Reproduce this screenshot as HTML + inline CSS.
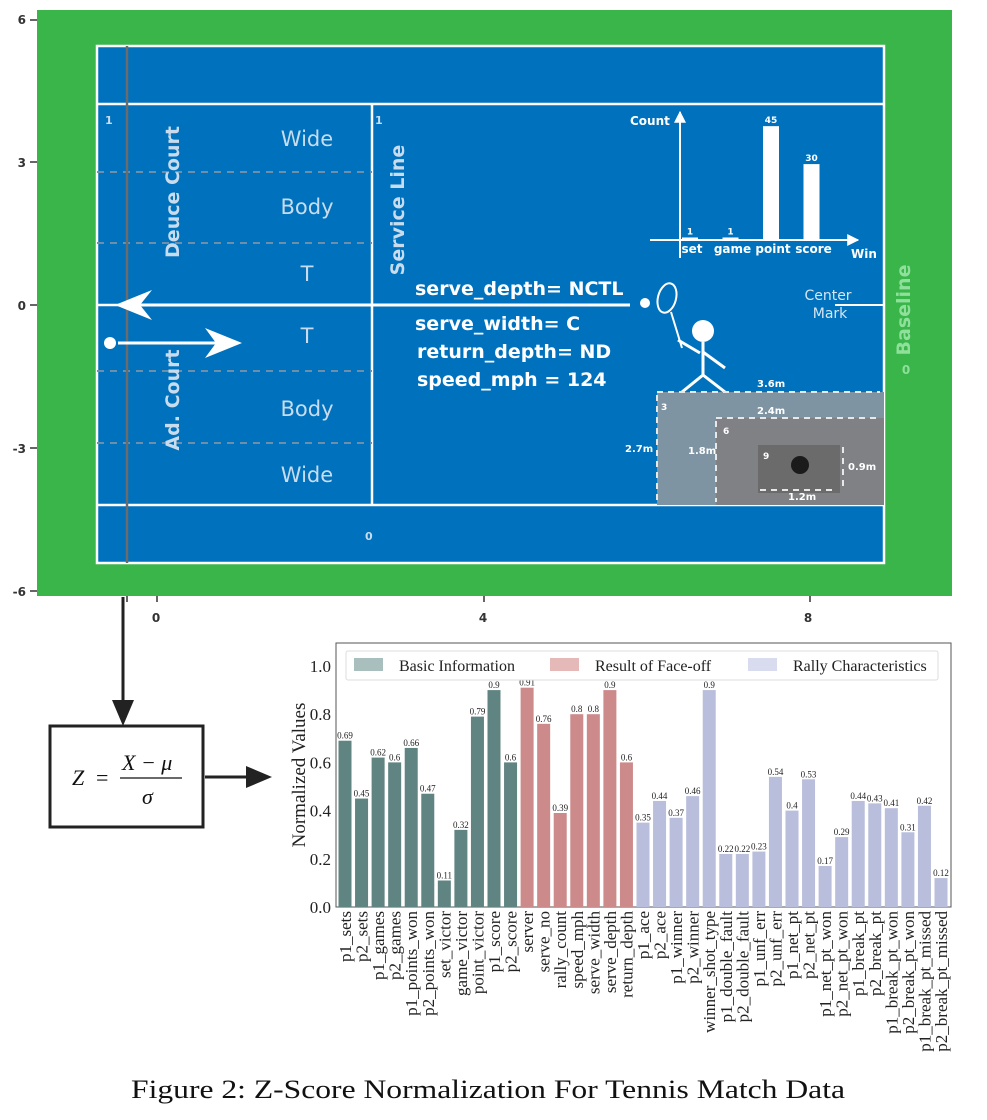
<!DOCTYPE html>
<html><head><meta charset="utf-8"><style>
html,body{margin:0;padding:0;background:#fff}
svg{display:block}
.sans{font-family:"DejaVu Sans","Liberation Sans",sans-serif}
.serif{font-family:"Liberation Serif",serif}
</style></head><body>
<svg id="root" width="987" height="1120" viewBox="0 0 987 1120" xmlns="http://www.w3.org/2000/svg">
<defs>
<marker id="ah" viewBox="0 0 10 10" refX="9" refY="5" markerWidth="6" markerHeight="6" orient="auto"><path d="M0,0 L10,5 L0,10 z" fill="#fff"/></marker>
</defs>
<g class="sans">
<rect x="37" y="10" width="915" height="586" fill="#39b54a"/>
<rect x="97" y="46" width="787" height="517" fill="#0071bc" stroke="#fff" stroke-width="2.5"/>
<line x1="97" y1="104" x2="884" y2="104" stroke="#fff" stroke-width="2.5"/>
<line x1="97" y1="505" x2="884" y2="505" stroke="#fff" stroke-width="2.5"/>
<line x1="372" y1="104" x2="372" y2="505" stroke="#fff" stroke-width="2.5"/>
<line x1="97" y1="305" x2="630" y2="305" stroke="#fff" stroke-width="2.5"/>
<line x1="835" y1="305" x2="884" y2="305" stroke="#fff" stroke-width="2"/>
<g stroke="#6d8fa8" stroke-width="2" stroke-dasharray="7,6">
<line x1="97" y1="172" x2="372" y2="172"/><line x1="97" y1="243" x2="372" y2="243"/>
<line x1="97" y1="371" x2="372" y2="371"/><line x1="97" y1="443" x2="372" y2="443"/>
</g>
<line x1="127" y1="46" x2="127" y2="563" stroke="#6b6b6b" stroke-width="2.5"/>
<g fill="#c8dcee" font-size="21" text-anchor="middle">
<text x="307" y="146">Wide</text><text x="307" y="214">Body</text><text x="307" y="281">T</text>
<text x="307" y="343">T</text><text x="307" y="416">Body</text><text x="307" y="482">Wide</text>
</g>
<g fill="#c8dcee" font-size="19" font-weight="bold">
<text transform="translate(179,192) rotate(-90)" text-anchor="middle">Deuce Court</text>
<text transform="translate(179,400) rotate(-90)" text-anchor="middle">Ad. Court</text>
<text transform="translate(404,210) rotate(-90)" text-anchor="middle">Service  Line</text>
</g>
<text transform="translate(910,310) rotate(-90)" text-anchor="middle" fill="#8fe09a" font-size="19" font-weight="bold">Baseline</text>
<text x="906" y="374" fill="#8fe09a" font-size="12" font-weight="bold" text-anchor="middle">0</text>
<g fill="#c8dcee" font-size="11" font-weight="bold"><text x="105" y="124">1</text><text x="375" y="124">1</text><text x="365" y="540">0</text></g>
<g fill="#d7e6f3" font-size="14" text-anchor="middle"><text x="828" y="300">Center</text><text x="830" y="318">Mark</text></g>
<line x1="630" y1="305" x2="120" y2="305" stroke="#fff" stroke-width="3"/>
<path d="M115,305 L152,290 L140,305 L152,320 z" fill="#fff"/>
<circle cx="110" cy="343" r="6" fill="#fff"/>
<line x1="118" y1="343" x2="225" y2="343" stroke="#fff" stroke-width="3"/>
<path d="M242,343 L205,328 L216,343 L205,358 z" fill="#fff"/>
<g fill="#fff" font-size="19" font-weight="bold">
<text x="415" y="295">serve_depth= NCTL</text><text x="415" y="330">serve_width= C</text>
<text x="417" y="358">return_depth= ND</text><text x="417" y="386">speed_mph = 124</text>
</g>
<g stroke="#fff" stroke-width="3" fill="none">
<circle cx="645" cy="303" r="5" fill="#fff" stroke="none"/>
<ellipse cx="667" cy="298" rx="9" ry="15" transform="rotate(15 667 298)" stroke-width="2"/>
<line x1="671" y1="312" x2="682" y2="348" stroke-width="2"/>
<circle cx="703" cy="331" r="11" fill="#fff" stroke="none"/>
<line x1="703" y1="342" x2="703" y2="375"/>
<line x1="678" y1="340" x2="700" y2="353"/><line x1="703" y1="352" x2="725" y2="368"/>
<line x1="703" y1="375" x2="682" y2="392"/><line x1="703" y1="375" x2="725" y2="392"/>
</g>
<rect x="657" y="392" width="227" height="113" fill="#7e94a3"/>
<rect x="716" y="418" width="168" height="87" fill="#7f8184"/>
<rect x="758" y="445" width="82" height="48" fill="#6b6b6b"/>
<circle cx="800" cy="465" r="9" fill="#1b1b1b"/>
<g stroke="#e8e8e8" stroke-width="2" stroke-dasharray="6,5" fill="none">
<line x1="657" y1="392" x2="880" y2="392"/><line x1="657" y1="395" x2="657" y2="502"/>
<line x1="716" y1="418" x2="880" y2="418"/><line x1="716" y1="421" x2="716" y2="502"/>
<line x1="760" y1="490" x2="836" y2="490"/><line x1="843" y1="447" x2="843" y2="486"/>
</g>
<g fill="#fff" font-size="10" font-weight="bold">
<text x="757" y="387">3.6m</text><text x="757" y="414">2.4m</text><text x="625" y="452">2.7m</text>
<text x="688" y="454">1.8m</text><text x="848" y="470">0.9m</text><text x="788" y="500">1.2m</text>
<text x="661" y="410" font-size="9">3</text><text x="723" y="434" font-size="9">6</text><text x="763" y="459" font-size="9">9</text>
</g>
<g id="mini"></g>
<g font-size="12" font-weight="bold" fill="#333" text-anchor="end">
<text x="26" y="24">6</text><text x="26" y="167">3</text><text x="26" y="310">0</text><text x="26" y="453">-3</text><text x="26" y="596">-6</text>
</g>
<g stroke="#333" stroke-width="1.5"><line x1="30" y1="20" x2="37" y2="20"/><line x1="30" y1="162" x2="37" y2="162"/><line x1="30" y1="305" x2="37" y2="305"/><line x1="30" y1="448" x2="37" y2="448"/><line x1="30" y1="591" x2="37" y2="591"/>
<line x1="127" y1="596" x2="127" y2="602"/><line x1="157" y1="596" x2="157" y2="602"/><line x1="484" y1="596" x2="484" y2="602"/><line x1="810" y1="596" x2="810" y2="602"/></g>
<g font-size="12" font-weight="bold" fill="#333" text-anchor="middle">
<text x="156" y="622">0</text><text x="483" y="622">4</text><text x="808" y="622">8</text></g>
</g>
<line x1="123" y1="597" x2="123" y2="720" stroke="#222" stroke-width="3"/>
<path d="M123,726 L112,700 L134,700 z" fill="#222"/>
<rect x="50" y="726" width="153" height="101" fill="#fff" stroke="#222" stroke-width="3"/>
<g class="serif" font-size="22" font-style="italic" fill="#111">
<text x="72" y="785">Z</text><text x="96" y="785" font-style="normal">=</text>
<text x="122" y="770">X − μ</text><line x1="120" y1="778" x2="182" y2="778" stroke="#111" stroke-width="1.3"/>
<text x="142" y="804">σ</text></g>
<line x1="205" y1="777" x2="262" y2="777" stroke="#222" stroke-width="3"/>
<path d="M272,777 L246,766 L246,788 z" fill="#222"/>
<g id="chart" class="serif"></g>
<text x="131" y="1098" class="serif" font-size="26" textLength="714" lengthAdjust="spacingAndGlyphs" fill="#111">Figure 2: Z-Score Normalization For Tennis Match Data</text>
</svg>
<script>
const basicNames=["p1_sets","p2_sets","p1_games","p2_games","p1_points_won","p2_points_won","set_victor","game_victor","point_victor","p1_score","p2_score"];
const basicValues=[0.69,0.45,0.62,0.6,0.66,0.47,0.11,0.32,0.79,0.9,0.6];
const faceoffNames=["server","serve_no","rally_count","speed_mph","serve_width","serve_depth","return_depth"];
const faceoffValues=[0.91,0.76,0.39,0.8,0.8,0.9,0.6];
const rallyNames=["p1_ace","p2_ace","p1_winner","p2_winner","winner_shot_type","p1_double_fault","p2_double_fault","p1_unf_err","p2_unf_err","p1_net_pt","p2_net_pt","p1_net_pt_won","p2_net_pt_won","p1_break_pt","p2_break_pt","p1_break_pt_won","p2_break_pt_won","p1_break_pt_missed","p2_break_pt_missed"];
const rallyValues=[0.35,0.44,0.37,0.46,0.9,0.22,0.22,0.23,0.54,0.4,0.53,0.17,0.29,0.44,0.43,0.41,0.31,0.42,0.12];
const yTicks=[0,0.2,0.4,0.6,0.8,1.0];
const legendLabels=["Basic Information","Result of Face-off","Rally Characteristics"];
const miniCats=["set","game","point","score"];
const miniCounts=[1,1,45,30];

const NS="http://www.w3.org/2000/svg";
function mk(tag,attrs,parent){const e=document.createElementNS(NS,tag);for(const k in attrs)e.setAttribute(k,attrs[k]);parent.appendChild(e);return e;}
const chart=document.getElementById('chart');
const X0=336,X1=951,Y0=907,YTOP=643;
const yS=v=>Y0-v*241;
const all=[];
basicNames.forEach((n,i)=>all.push([n,basicValues[i],"#5f8482"]));
faceoffNames.forEach((n,i)=>all.push([n,faceoffValues[i],"#cd8a8a"]));
rallyNames.forEach((n,i)=>all.push([n,rallyValues[i],"#b8bedb"]));
const xS=i=>345+i*(941-345)/(all.length-1);
mk('rect',{x:X0,y:YTOP,width:X1-X0,height:Y0-YTOP,fill:'#fff',stroke:'#555','stroke-width':1},chart);
yTicks.forEach(t=>{const tx=mk('text',{x:X0-5,y:yS(t)+6,'font-size':17,'text-anchor':'end',fill:'#222'},chart);tx.textContent=t.toFixed(1);

});
const yt=mk('text',{transform:`translate(305,775) rotate(-90)`,'font-size':19,'text-anchor':'middle',fill:'#222'},chart);yt.textContent="Normalized Values";


all.forEach((d,i)=>{const cx=xS(i);
const r=mk('rect',{x:cx-6.5,y:yS(d[1]),width:13,height:Y0-yS(d[1]),fill:d[2]},chart);


const v=mk('text',{x:cx,y:yS(d[1])-2,'font-size':9,'text-anchor':'middle',fill:'#222'},chart);v.textContent=String(d[1]);


const l=mk('text',{transform:`translate(${cx+6},911) rotate(-90)`,'font-size':17,'text-anchor':'end',fill:'#222'},chart);l.textContent=d[0];

});
const lg=mk('g',{},chart);


mk('rect',{x:346,y:651,width:592,height:29,fill:'#fff',stroke:'#ddd',rx:2},lg);
const lc=["#a9bfbe","#e6b9b9","#d9dcee"],lx=[354,550,748];
legendLabels.forEach((s,i)=>{const sw=mk('rect',{x:lx[i],y:658,width:29,height:13,fill:lc[i]},lg);


const t=mk('text',{x:lx[i]+45,y:671,'font-size':16,fill:'#222'},lg);t.textContent=s;

});
const mini=document.getElementById('mini');
const mx=c=>690+c*40.5, my=v=>240-v*2.53;
mk('line',{x1:650,y1:240,x2:858,y2:240,stroke:'#fff','stroke-width':2,'marker-end':'url(#ah)'},mini);
mk('line',{x1:680,y1:258,x2:680,y2:112,stroke:'#fff','stroke-width':2,'marker-end':'url(#ah)'},mini);
const ct=mk('text',{x:630,y:125,'font-size':12,'font-weight':'bold',fill:'#fff'},mini);ct.textContent="Count";
const wt=mk('text',{x:851,y:258,'font-size':12,'font-weight':'bold',fill:'#fff'},mini);wt.textContent="Win";
miniCats.forEach((c,i)=>{const b=mk('rect',{x:mx(i)-8,y:my(miniCounts[i]),width:16,height:240-my(miniCounts[i]),fill:'#fff'},mini);


const v=mk('text',{x:mx(i),y:my(miniCounts[i])-3,'font-size':9,'font-weight':'bold','text-anchor':'middle',fill:'#fff'},mini);v.textContent=miniCounts[i];
const l=mk('text',{x:mx(i)+2,y:253,'font-size':12,'font-weight':'bold','text-anchor':'middle',fill:'#fff'},mini);l.textContent=c;

});
</script>
</body></html>
